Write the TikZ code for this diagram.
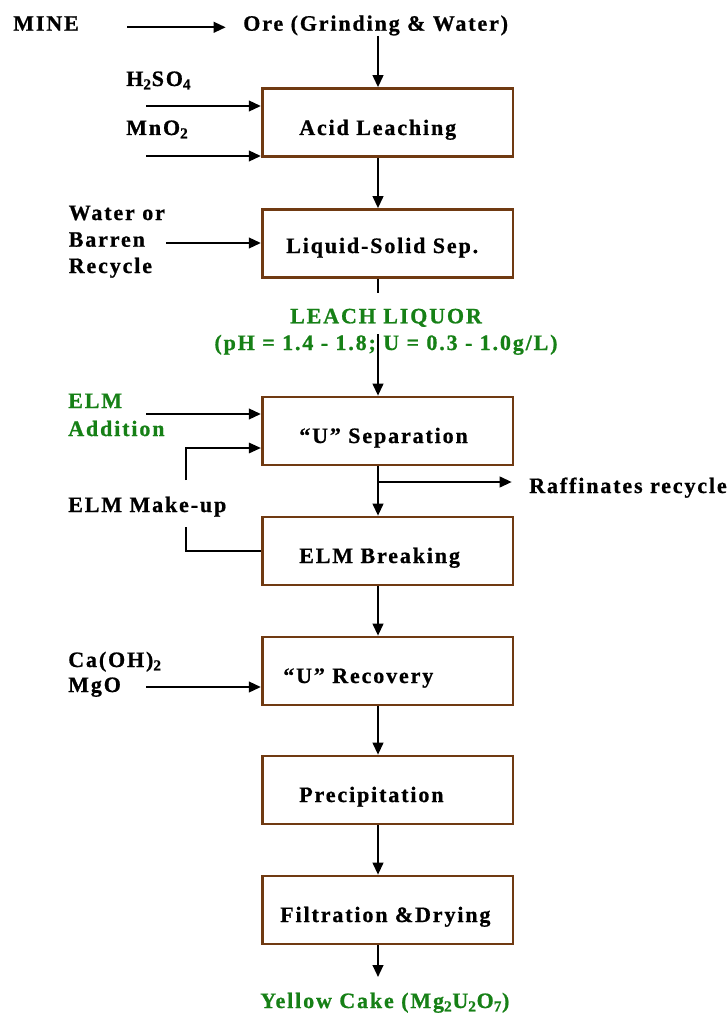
\documentclass[tikz,border=0pt]{standalone}
\usepackage{fontspec}
\setmainfont{Liberation Serif}[LetterSpace=8.5, BoldFeatures={FakeBold=0.8}]
\usetikzlibrary{arrows.meta}

\definecolor{boxbrown}{RGB}{112,58,18}
\definecolor{liqgreen}{RGB}{22,128,22}

\tikzset{
  stepbox/.style={draw=boxbrown, line width=2pt, minimum width=188pt, minimum height=51pt, inner sep=0pt},
  lbl/.style={anchor=base west, inner sep=0pt, font=\bfseries\fontsize{16.5}{20}\selectfont},
  glbl/.style={lbl, text=liqgreen},
  flow/.style={line width=1.5pt, -{Triangle[length=9pt,width=8pt]}},
  thinline/.style={line width=0.9pt}
}

\begin{document}
\begin{tikzpicture}[x=0.75pt, y=-0.75pt]
  \useasboundingbox (0,0) rectangle (726,1013);

  % --- mine and ore ---
  \node[lbl] (mine) at (13,30.7) {MINE};
  \node[lbl] (ore) at (243,30.7) {Ore (Grinding \& Water)};
  \coordinate (minearr) at (127,27.3);
  \draw[flow] (minearr) -- (minearr -| ore.west) [shorten >=13pt];
  \coordinate (spine) at (378,36);

  % --- process boxes ---
  \node[stepbox] (acid) at (387.5,122.5) {};
  \node[lbl] (acidtxt) at (299,135) {Acid Leaching};
  \node[stepbox] (liq) at (387.5,243.5) {};
  \node[lbl] (liqtxt) at (286,253) {Liquid-Solid Sep.};
  \node[stepbox] (usep) at (387.5,431) {};
  \node[lbl] (useptxt) at (299,443) {``U'' Separation};
  \node[stepbox] (brk) at (387.5,551) {};
  \node[lbl] (brktxt) at (299,563) {ELM Breaking};
  \node[stepbox] (rec) at (387.5,671) {};
  \node[lbl] (rectxt) at (283,683) {``U'' Recovery};
  \node[stepbox] (prec) at (387.5,790) {};
  \node[lbl] (prectxt) at (299,802) {Precipitation};
  \node[stepbox] (filt) at (387.5,910) {};
  \node[lbl] (filttxt) at (280,922) {Filtration \&Drying};

  % --- main line ---
  \draw[flow] (spine) -- (spine |- acid.north);
  \draw[flow] (spine |- acid.south) -- (spine |- liq.north);
  \node[glbl, anchor=base] (leach) at (386,323.3) {LEACH LIQUOR};
  \node[glbl, anchor=base] (ph) at (386,350) {(pH = 1.4 - 1.8; U = 0.3 - 1.0g/L)};
  \draw[flow, -] (spine |- liq.south) -- ++(0,14);
  \draw[flow] (spine |- ph.north) -- (spine |- usep.north);
  \draw[flow] (spine |- usep.south) -- (spine |- brk.north);
  \draw[flow] (spine |- brk.south) -- (spine |- rec.north);
  \draw[flow] (spine |- rec.south) -- (spine |- prec.north);
  \draw[flow] (spine |- prec.south) -- (spine |- filt.north);
  \coordinate (cakearr) at (378,977);
  \draw[flow] (spine |- filt.south) -- (cakearr);
  \node[glbl] (cake) at (260,1008) {Yellow Cake (Mg\textsubscript{2}U\textsubscript{2}O\textsubscript{7})};

  % --- acid leaching inputs ---
  \node[lbl] (acidin) at (126,86) {H\textsubscript{2}SO\textsubscript{4}};
  \node[lbl] (oxin) at (126,135) {MnO\textsubscript{2}};
  \coordinate (acidarr) at (146,106);
  \coordinate (oxarr) at (146,156);
  \draw[flow] (acidarr) -- (acidarr -| acid.west);
  \draw[flow] (oxarr) -- (oxarr -| acid.west);

  % --- wash water ---
  \node[lbl] (wat1) at (68.5,220) {Water or};
  \node[lbl] (wat2) at (68.5,246.7) {Barren};
  \node[lbl] (wat3) at (68.5,273) {Recycle};
  \coordinate (watarr) at (166,243);
  \draw[flow] (watarr) -- (watarr -| liq.west);

  % --- ELM addition and make-up ---
  \node[glbl] (elm1) at (68,408) {ELM};
  \node[glbl] (elm2) at (68,436) {Addition};
  \coordinate (elmarr) at (146,414);
  \draw[flow] (elmarr) -- (elmarr -| usep.west);
  \node[lbl] (makeup) at (68,512) {ELM Make-up};
  \coordinate (mkup) at (186,480);
  \coordinate (mkdown) at (186,527);
  \draw[thinline] (brk.west) -| (mkdown);
  \draw[flow, line width=0.9pt] (mkup) |- ([yshift=-12.75pt]usep.west);

  % --- raffinates ---
  \coordinate (raffarr) at (378,482);
  \node[lbl] (raff) at (529,493) {Raffinates recycle};
  \draw[flow] (raffarr) -- (raffarr -| raff.west) [shorten >=13pt];

  % --- u recovery reagents ---
  \node[lbl] (base1) at (68,667) {Ca(OH)\textsubscript{2}};
  \node[lbl] (base2) at (68,692) {MgO};
  \coordinate (basearr) at (146,687);
  \draw[flow] (basearr) -- (basearr -| rec.west);

\end{tikzpicture}
\end{document}
